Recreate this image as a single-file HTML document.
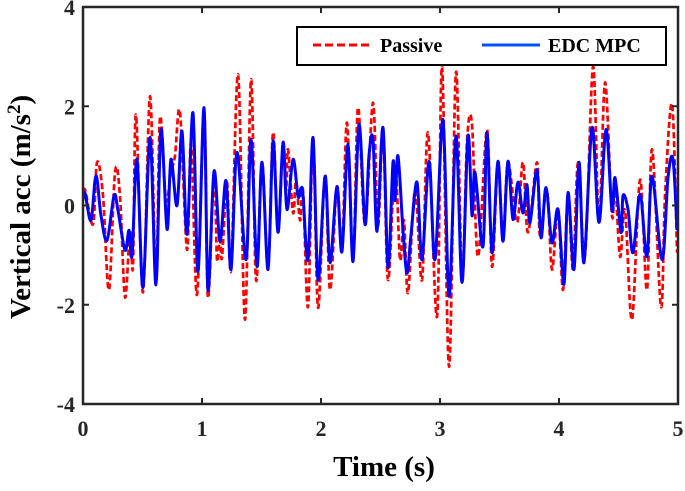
<!DOCTYPE html>
<html><head><meta charset="utf-8"><style>
body{margin:0;background:#fff}
svg text{font-family:"Liberation Serif",serif;font-weight:bold}
</style></head><body>
<svg id="chart" width="685" height="486" xmlns="http://www.w3.org/2000/svg"></svg>
<script>
const xTicks=[0,1,2,3,4,5];
const yTicks=[-4,-2,0,2,4];
const passiveT=[0,.017,.084,.118,.168,.218,.269,.311,.353,.395,.420,.445,.504,.563,.613,.647,.697,.739,.773,.815,.874,.908,.958,1.017,1.050,1.101,1.126,1.151,1.168,1.210,1.244,1.303,1.361,1.412,1.454,1.504,1.555,1.597,1.639,1.681,1.706,1.723,1.765,1.790,1.824,1.849,1.891,1.933,1.975,2.034,2.076,2.134,2.176,2.218,2.269,2.311,2.370,2.437,2.479,2.521,2.563,2.622,2.664,2.697,2.731,2.790,2.849,2.899,2.975,3.017,3.076,3.134,3.185,3.227,3.269,3.319,3.395,3.437,3.487,3.529,3.571,3.647,3.697,3.739,3.815,3.840,3.899,3.941,3.992,4.034,4.076,4.118,4.160,4.218,4.286,4.336,4.387,4.445,4.471,4.513,4.555,4.613,4.681,4.739,4.782,4.857,4.891,4.950,4.992];
const passiveV=[0.1,0.32,-0.38,0.87,0.2,-1.7,0.67,0.18,-1.85,-0.5,-1.23,1.83,-1.75,2.2,-1.5,1.77,0.12,0.67,1.0,1.88,-0.89,1.25,-1.8,1.94,-1.85,0.67,-1.09,-0.6,-1.05,0.47,-1.3,2.64,-2.3,2.54,-1.5,0.87,-1.29,1.47,-0.54,1.27,0.3,1.13,-0.15,0.5,-0.3,0.3,-2.04,1.37,-2.06,0.62,-1.7,0.38,-0.93,1.67,-1.13,1.97,-0.38,2.07,-0.4,1.53,-1.5,0.8,-1.09,-0.3,-1.76,0.3,-1.5,1.47,-2.24,2.8,-3.25,2.68,-1.5,1.3,1.63,-1.03,1.53,-1.23,0.87,-0.69,0.87,-0.34,0.87,-0.54,0.87,-0.6,0.3,-1.29,-0.08,-1.7,0.26,-1.29,0.87,-1.0,2.8,-0.34,2.48,-0.2,0.5,-1.03,-0.1,-2.3,0.52,-1.7,1.13,-2.04,0.2,2.04,-0.95];
const mpcT=[0,.017,.067,.109,.151,.202,.261,.294,.353,.387,.412,.454,.504,.563,.613,.655,.706,.739,.790,.832,.874,.924,.966,1.017,1.050,1.101,1.151,1.202,1.244,1.294,1.370,1.412,1.462,1.504,1.555,1.597,1.639,1.681,1.714,1.765,1.807,1.832,1.849,1.891,1.933,1.975,2.034,2.076,2.134,2.176,2.227,2.269,2.319,2.370,2.403,2.437,2.471,2.521,2.563,2.605,2.622,2.647,2.689,2.723,2.756,2.807,2.849,2.908,2.958,3.025,3.076,3.134,3.185,3.235,3.269,3.294,3.361,3.395,3.437,3.487,3.529,3.571,3.613,3.655,3.697,3.731,3.756,3.815,3.849,3.891,3.941,3.992,4.042,4.076,4.126,4.168,4.210,4.277,4.336,4.395,4.445,4.471,4.521,4.538,4.580,4.622,4.681,4.739,4.782,4.866,4.916,4.958,4.992];
const mpcV=[0.15,0.25,-0.3,0.6,-0.2,-0.7,0.2,-0.1,-0.9,-0.5,-1.0,0.93,-1.65,1.37,-1.6,1.53,-0.48,0.93,0,1.5,-0.58,1.87,-1.33,1.97,-1.7,0.69,-0.72,0.5,-1.29,1.07,-1.09,1.33,-1.23,0.87,-1.29,1.3,-0.54,1.27,-0.08,0.93,0.18,0.35,0.2,-1.09,1.37,-1.5,0.59,-1.15,0.38,-0.93,1.23,-1.13,1.63,-0.38,1.0,1.33,-0.52,1.57,-1.25,0.87,0.1,1.0,-0.5,-1.36,-0.6,0.47,-1.09,0.89,-1.09,1.73,-1.83,1.4,-1.55,1.4,-0.2,0.67,-0.83,1.47,-0.95,0.89,-0.72,0.89,-0.28,0.47,-0.15,0.42,-0.35,0.72,-0.65,0.36,-0.75,-0.08,-1.59,0.26,-1.29,0.87,-1.15,1.57,-0.34,1.53,-0.1,0.56,-0.54,0.2,-0.08,-0.95,0.22,-1.03,0.59,-1.09,0.56,0.93,-0.5];

const L=83,R=678,T=7,B=404;
const xs=t=>L+(t-0)/(5-0)*(R-L);
const ys=v=>B-(v+4)/8*(B-T);
const NS="http://www.w3.org/2000/svg";
const svg=document.getElementById('chart');
function mk(tag,attrs,parent){const e=document.createElementNS(NS,tag);for(const k in attrs)e.setAttribute(k,attrs[k]);(parent||svg).appendChild(e);return e;}
function pathFor(T_,V_){
  const p=T_.map((t,i)=>[xs(t),ys(V_[i])]);
  let d=`M${p[0][0]},${p[0][1]}`;
  for(let i=0;i<p.length-1;i++){
    const p0=p[Math.max(i-1,0)],p1=p[i],p2=p[i+1],p3=p[Math.min(i+2,p.length-1)];
    const c1=[p1[0]+(p2[0]-p0[0])/6,p1[1]+(p2[1]-p0[1])/6];
    const c2=[p2[0]-(p3[0]-p1[0])/6,p2[1]-(p3[1]-p1[1])/6];
    d+=` C${c1[0]},${c1[1]} ${c2[0]},${c2[1]} ${p2[0]},${p2[1]}`;
  }
  return d;
}
const clip=mk('clipPath',{id:'pc'});mk('rect',{x:L,y:T,width:R-L,height:B-T},clip);
const red=mk('path',{d:pathFor(passiveT,passiveV),fill:'none',stroke:'#ff0000','stroke-width':2.7,'stroke-dasharray':'6,3','clip-path':'url(#pc)'});


const blue=mk('path',{d:pathFor(mpcT,mpcV),fill:'none',stroke:'#0000ff','stroke-width':3,'clip-path':'url(#pc)'});


const box=mk('rect',{x:L,y:T,width:R-L,height:B-T,fill:'none',stroke:'#262626','stroke-width':2.5});


xTicks.forEach(t=>{
  const x=xs(t);
  mk('line',{x1:x,x2:x,y1:B,y2:B-6,stroke:'#262626','stroke-width':2});
  mk('line',{x1:x,x2:x,y1:T,y2:T+6,stroke:'#262626','stroke-width':2});
  const tx=mk('text',{x:x,y:B+32,'text-anchor':'middle','font-size':22,fill:'#262626'});
  tx.textContent=t;
  
  
});
yTicks.forEach(v=>{
  const y=ys(v);
  mk('line',{x1:L,x2:L+6,y1:y,y2:y,stroke:'#262626','stroke-width':2});
  mk('line',{x1:R,x2:R-6,y1:y,y2:y,stroke:'#262626','stroke-width':2});
  const tx=mk('text',{x:L-8,y:y+8,'text-anchor':'end','font-size':22,fill:'#262626'});
  tx.textContent=v;
  
  
});
const xt=mk('text',{x:384,y:476,'text-anchor':'middle','font-size':29,fill:'#000'});
xt.textContent='Time (s)';


const yt=mk('text',{x:0,y:0,'text-anchor':'middle','font-size':29,fill:'#000',transform:'translate(30,207) rotate(-90)'});
yt.innerHTML='Vertical acc (m/s<tspan dy="-10" font-size="19">2</tspan><tspan dy="10">)</tspan>';


const lg=mk('g',{});


mk('rect',{x:297,y:27,width:369,height:38,fill:'#fff',stroke:'#000','stroke-width':2},lg);
mk('line',{x1:313,x2:370,y1:45,y2:45,stroke:'#ff0000','stroke-width':3,'stroke-dasharray':'8,4'},lg);
const l1=mk('text',{x:380,y:52,'font-size':20,fill:'#000'},lg);l1.textContent='Passive';


mk('line',{x1:482,x2:540,y1:45,y2:45,stroke:'#0050ff','stroke-width':3},lg);
const l2=mk('text',{x:548,y:52,'font-size':20,fill:'#000'},lg);l2.textContent='EDC MPC';


</script>
</body></html>
